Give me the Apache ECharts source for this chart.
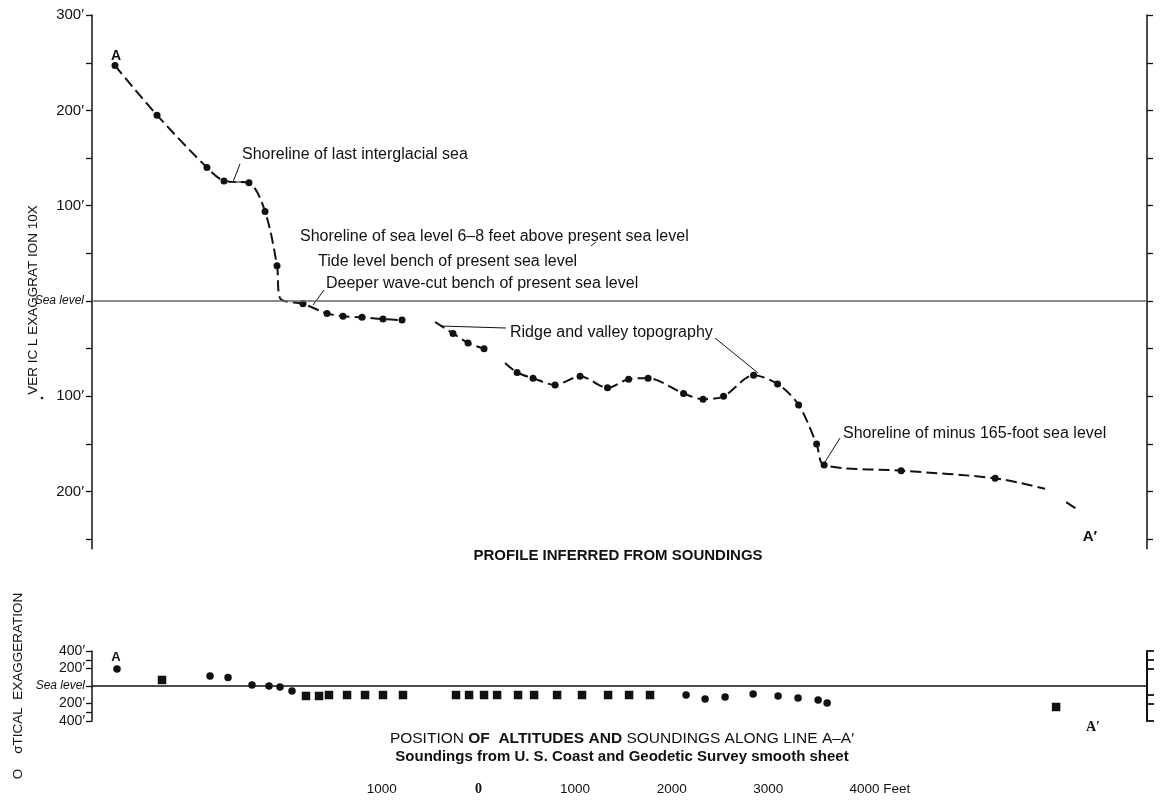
<!DOCTYPE html>
<html><head><meta charset="utf-8">
<script src="https://cdn.jsdelivr.net/npm/echarts@6/dist/echarts.min.js"></script>
<style>html,body{margin:0;padding:0;background:#fff}#c{width:1160px;height:800px}</style>
</head><body><div id="c"></div>
<script>
// ---------- DATA (distance along line A–A' in feet, elevation in feet) ----------
// Profile inferred from soundings (vertical exaggeration 10x); null = break in the pen line
const profileDist = [238,673,1190,1366,1625,1791,1915,1946,2184,2433,2598,2795,3012,3209,3380,3551,3737,3892,4058,4165,4275,4400,4565,4793,5052,5336,5554,5756,6123,6325,6537,6848,7096,7314,7500,7578,8375,9348,9865,9960,10083,10217];
const profileElev = [247,195,140,126,124,94,37,3,-3,-13,-16,-17,-19,-20,null,-22,-34,-44,-50,null,-65,-75,-81,-88,-79,-91,-82,-81,-97,-103,-100,-78,-87,-109,-150,-172,-178,-186,-197,null,-211,-220];
const profileObserved = [1,1,1,1,1,1,1,0,1,1,1,1,1,1,0,0,1,1,1,0,0,1,1,1,1,1,1,1,1,1,1,1,1,1,1,1,1,1,0,0,0,0];

// Position of altitudes and soundings (no vertical exaggeration)
const dotDist = [259,1222,1408,1656,1832,1946,2070,6149,6346,6553,6843,7101,7308,7516,7609];
const dotElev = [194,114,97,11,0,-11,-57,-103,-149,-126,-91,-114,-137,-160,-194];
const squareDist = [725,2215,2350,2453,2640,2826,3012,3219,3768,3903,4058,4193,4410,4576,4814,5072,5342,5559,5776,9979];
const squareElev = [69,-114,-114,-103,-103,-103,-103,-103,-103,-103,-103,-103,-103,-103,-103,-103,-103,-103,-103,-240];

// Axis ticks / labels
const mainTickValues = [300,250,200,150,100,50,0,-50,-100,-150,-200,-250];
const mainLabelValues = [300,200,100,0,-100,-200];
const mainLabelTexts = ['300′','200′','100′','Sea level','100′','200′'];
const lowTickValues = [400,300,200,0,-200,-300,-400];
const lowLabelValues = [400,200,0,-200,-400];
const lowLabelTexts = ['400′','200′','Sea level','200′','400′'];
const lowRightTicks = [400,300,200,-100,-200,-400];
const scaleValues = [3000,4000,5000,6000,7000,8000];
const scaleTexts = ['1000','0','1000','2000','3000','4000 Feet'];

// ---------- CHART ----------
const FONT = 'Liberation Sans';
const INK = '#111';
const chart = echarts.init(document.getElementById('c'), null, {renderer:'canvas'});

function labelFor(values, texts){
  return function(v){
    const i = values.indexOf(v);
    if (i < 0) return '';
    const t = texts[i];
    return t === 'Sea level' ? '{it|Sea level}' : t;
  };
}

const profileData = profileDist.map((d,i)=>({
  value:[d, profileElev[i]===null ? '-' : profileElev[i]],
  symbol: profileObserved[i] ? 'circle' : 'none'
}));

const ANN = {font:'16px '+FONT};
const txt = (x,y,text,extra)=>({type:'text', x, y, silent:true,
  style:Object.assign({text, fill:INK, font:'14px '+FONT, textAlign:'left', textVerticalAlign:'middle'}, extra||{})});
const vtxt = (x,y,text,extra)=>({type:'text', x, y, silent:true, rotation:Math.PI/2,
  style:Object.assign({text, fill:INK, font:'13.5px '+FONT, textAlign:'center', textVerticalAlign:'middle'}, extra||{})});
const ln = (pts,w)=>({type:'polyline', silent:true, shape:{points:pts}, style:{stroke:INK, lineWidth:w||1, fill:null}});

chart.setOption({
  animation:false,
  backgroundColor:'#fff',
  grid:[
    {left:92, right:13, top:15.1, height:533.7},
    {left:92, right:13, top:651, height:70}
  ],
  xAxis:[
    {gridIndex:0, type:'value', min:0, max:10920, show:false},
    {gridIndex:1, type:'value', min:0, max:10920,
      axisLine:{show:false}, axisTick:{show:false}, splitLine:{show:false},
      axisLabel:{customValues:scaleValues, margin:61, color:INK, fontFamily:FONT, fontSize:13.5,
        formatter:function(v){const i=scaleValues.indexOf(v); if(i<0) return ''; const t=scaleTexts[i];
          if(t==='0') return '{s|0}'; if(t.indexOf('Feet')>0) return '{f|'+t+'}'; return t;},
        rich:{s:{fontFamily:'Liberation Serif', fontWeight:'bold', fontSize:14, color:INK},
              f:{fontFamily:FONT, fontSize:13.5, color:INK, padding:[0,0,0,30]}}}}
  ],
  yAxis:[
    {gridIndex:0, type:'value', min:-260, max:300, position:'left',
      axisLine:{show:true, lineStyle:{color:INK, width:1.5}},
      axisTick:{show:true, customValues:mainTickValues, length:6, lineStyle:{color:INK, width:1.3}},
      axisLabel:{customValues:mainLabelValues, formatter:labelFor(mainLabelValues, mainLabelTexts),
        color:INK, fontFamily:FONT, fontSize:15, margin:8,
        rich:{it:{fontStyle:'italic', fontSize:12, fontFamily:FONT, color:INK}}},
      splitLine:{show:false}},
    {gridIndex:0, type:'value', min:-260, max:300, position:'right',
      axisLine:{show:true, lineStyle:{color:INK, width:1.5}},
      axisTick:{show:true, customValues:mainTickValues, length:6, lineStyle:{color:INK, width:1.3}},
      axisLabel:{show:false}, splitLine:{show:false}},
    {gridIndex:1, type:'value', min:-400, max:400, position:'left',
      axisLine:{show:true, lineStyle:{color:INK, width:1.5}},
      axisTick:{show:true, customValues:lowTickValues, length:6, lineStyle:{color:INK, width:1.3}},
      axisLabel:{customValues:lowLabelValues, formatter:labelFor(lowLabelValues, lowLabelTexts),
        color:INK, fontFamily:FONT, fontSize:14, margin:7,
        rich:{it:{fontStyle:'italic', fontSize:12, fontFamily:FONT, color:INK}}},
      splitLine:{show:false}},
    {gridIndex:1, type:'value', min:-400, max:400, position:'right',
      axisLine:{show:true, lineStyle:{color:INK, width:2}},
      axisTick:{show:true, customValues:lowRightTicks, length:7, lineStyle:{color:INK, width:1.8}},
      axisLabel:{show:false}, splitLine:{show:false}}
  ],
  series:[
    {type:'line', xAxisIndex:0, yAxisIndex:0, data:profileData, smooth:0.3, connectNulls:false,
      symbolSize:7, itemStyle:{color:INK, opacity:1},
      lineStyle:{color:INK, width:2, type:[11,5]},
      markLine:{silent:true, symbol:'none', label:{show:false},
        lineStyle:{color:'#666', width:1.6, type:'solid'}, data:[{yAxis:0}]}},
    {type:'scatter', xAxisIndex:1, yAxisIndex:2, data:dotDist.map((d,i)=>[d,dotElev[i]]),
      symbol:'circle', symbolSize:7.5, itemStyle:{color:INK, opacity:1},
      markLine:{silent:true, symbol:'none', label:{show:false},
        lineStyle:{color:INK, width:1.5, type:'solid'}, data:[{yAxis:0}]}},
    {type:'scatter', xAxisIndex:1, yAxisIndex:2, data:squareDist.map((d,i)=>[d,squareElev[i]]),
      symbol:'rect', symbolSize:8.5, itemStyle:{color:INK, opacity:1}}
  ],
  graphic:[
    // axis titles
    vtxt(33,300,'VER IC L EXAGGRAT ION 10X'),
    vtxt(18,686,'O    σTICAL  EXAGGERATION'),
    {type:'circle', silent:true, shape:{cx:42, cy:398, r:1.3}, style:{fill:INK}},
    // annotations, main profile
    txt(116,56,'A',{font:'bold 14px '+FONT, textAlign:'center'}),
    txt(1090,537,'A′',{font:'bold 15px '+FONT, textAlign:'center'}),
    txt(242,155,'Shoreline of last interglacial sea',ANN),
    ln([[240,164],[233,182]]), ln([[229,182],[244,182]]),
    txt(300,237,'Shoreline of sea level 6–8 feet above present sea level',ANN),
    ln([[591,246],[596,242]]),
    txt(318,262,'Tide level bench of present sea level',ANN),
    txt(326,284,'Deeper wave-cut bench of present sea level',ANN),
    ln([[313,305],[324,290]]),
    txt(510,333,'Ridge and valley topography',ANN),
    ln([[440,326],[506,328]]), ln([[715,338],[758,373]]),
    txt(843,434,'Shoreline of minus 165-foot sea level',ANN),
    ln([[840,438],[825,462]]),
    txt(618,556,'PROFILE INFERRED FROM SOUNDINGS',{font:'bold 15px '+FONT, textAlign:'center'}),
    // lower panel
    txt(116,657,'A',{font:'bold 13px '+FONT, textAlign:'center'}),
    txt(1093,727,'A′',{font:'bold 14px Liberation Serif', textAlign:'center'}),
    txt(622,739,'POSITION {b|OF  ALTITUDES AND} SOUNDINGS ALONG LINE A–A′',{font:'15.5px '+FONT, textAlign:'center',
      rich:{b:{font:'bold 15.5px '+FONT, fill:INK}}}),
    txt(622,757,'Soundings from U. S. Coast and Geodetic Survey smooth sheet',{font:'bold 15px '+FONT, textAlign:'center'})
  ]
});
</script>
</body></html>
